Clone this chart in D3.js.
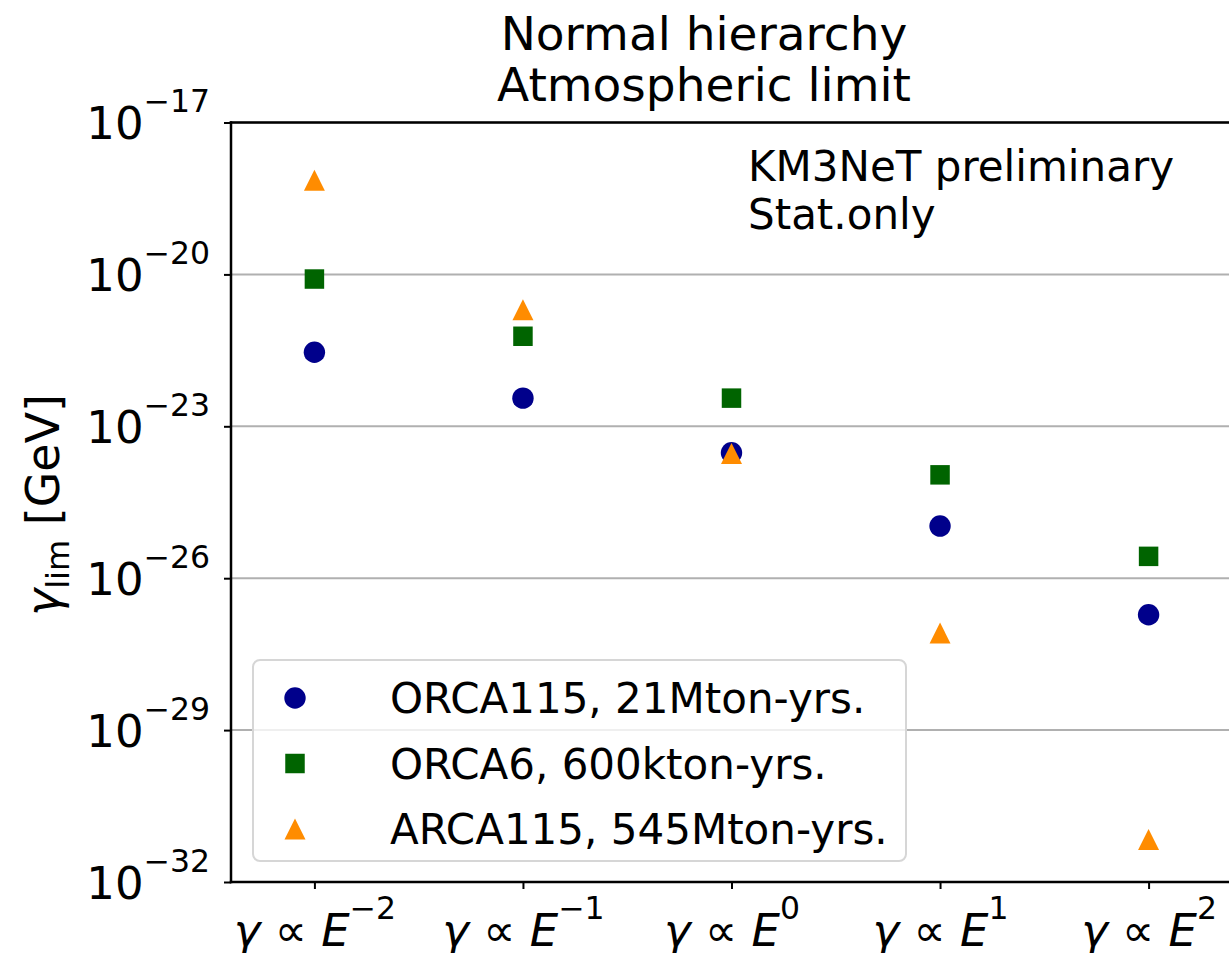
<!DOCTYPE html>
<html>
<head>
<meta charset="utf-8">
<script src="https://cdn.jsdelivr.net/npm/d3@7"></script>
<style>
  html, body { margin: 0; padding: 0; background: #fff; }
  svg { display: block; font-family: 'DejaVu Sans', sans-serif; }
</style>
</head>
<body>
<div id="chart"></div>
<script>
'use strict';

// data (gamma_lim in GeV)
const exponents = ['-2', '-1', '0', '1', '2'];
const orca115 = [2.9e-22, 3.6e-23, 3.0e-24, 1.07e-25, 1.9e-27];
const orca6 = [8.1e-21, 6.0e-22, 3.6e-23, 1.1e-24, 2.7e-26];
const arca115 = [7.2e-19, 2.0e-21, 2.9e-24, 8.3e-28, 6.9e-32];
const yTickExps = [-17, -20, -23, -26, -29, -32];

const seriesNames = ['ORCA115, 21Mton-yrs.', 'ORCA6, 600kton-yrs.', 'ARCA115, 545Mton-yrs.'];
const seriesValues = [orca115, orca6, arca115];

const W = 1229, H = 953;
const plot = { left: 231, right: 1232, top: 122.5, bottom: 882 };

const svg = d3.select('#chart').append('svg')
  .attr('width', W).attr('height', H);

const x = d3.scaleLinear().domain([-0.4, 4.4]).range([plot.left, plot.right]);
const y = d3.scaleLog().domain([1e-32, 1e-17]).range([plot.bottom, plot.top]);

// matplotlib style triangle, centred on its bounding box
const triangleUp = {
  draw(ctx, size) {
    const r = Math.sqrt(size) / 2;
    ctx.moveTo(0, -r);
    ctx.lineTo(r, r);
    ctx.lineTo(-r, r);
    ctx.closePath();
  }
};

const styles = [
  { color: '#00008b', sym: d3.symbolCircle, size: 360 },
  { color: '#006400', sym: d3.symbolSquare, size: 380 },
  { color: '#ff8c00', sym: triangleUp, size: 440 }
];

// grid
svg.append('g').selectAll('line')
  .data(yTickExps.map(e => Math.pow(10, e)))
  .enter().append('line')
  .attr('x1', plot.left).attr('x2', plot.right)
  .attr('y1', d => y(d)).attr('y2', d => y(d))
  .attr('stroke', '#b0b0b0').attr('stroke-width', 2);

// y axis
const yAxis = svg.append('g')
  .attr('transform', `translate(${plot.left},0)`)
  .call(d3.axisLeft(y).tickValues(yTickExps.map(e => Math.pow(10, e)))
    .tickSize(7).tickPadding(14).tickFormat(() => ''));
yAxis.select('.domain').remove();
yAxis.selectAll('.tick line').attr('stroke', '#000').attr('stroke-width', 2);
yAxis.selectAll('.tick text').each(function(d) {
  const t = d3.select(this)
    .attr('font-size', 45).attr('fill', '#000')
    .attr('font-family', 'DejaVu Sans').attr('dy', '0.36em');
  const e = Math.round(Math.log10(d));
  t.append('tspan').text('10');
  t.append('tspan').attr('font-size', 31.5).attr('dy', '-0.85em')
    .text('\u2212' + Math.abs(e));
});

// x axis
const xAxis = svg.append('g')
  .attr('transform', `translate(0,${plot.bottom})`)
  .call(d3.axisBottom(x).tickValues(d3.range(exponents.length))
    .tickSize(7).tickPadding(14).tickFormat(() => ''));
xAxis.select('.domain').remove();
xAxis.selectAll('.tick line').attr('stroke', '#000').attr('stroke-width', 2);
xAxis.selectAll('.tick text').each(function(d) {
  const t = d3.select(this)
    .attr('font-size', 45).attr('fill', '#000')
    .attr('font-family', 'DejaVu Sans').attr('dy', '0.95em');
  t.append('tspan').attr('font-style', 'italic').text('\u03b3');
  t.append('tspan').text(' \u221d ');
  t.append('tspan').attr('font-style', 'italic').text('E');
  t.append('tspan').attr('font-size', 31.5).attr('dy', '-0.85em')
    .text(exponents[d].replace('-', '\u2212'));
});

// spines (right one falls outside the picture)
const spines = svg.append('g').attr('stroke', '#000').attr('stroke-width', 2.5)
  .attr('stroke-linecap', 'square');
spines.append('line').attr('x1', plot.left).attr('x2', plot.left)
  .attr('y1', plot.top).attr('y2', plot.bottom);
spines.append('line').attr('x1', plot.left).attr('x2', plot.right)
  .attr('y1', plot.top).attr('y2', plot.top);
spines.append('line').attr('x1', plot.left).attr('x2', plot.right)
  .attr('y1', plot.bottom).attr('y2', plot.bottom);

// points
seriesValues.forEach((vals, i) => {
  const s = styles[i];
  svg.append('g').selectAll('path')
    .data(vals)
    .enter().append('path')
    .attr('transform', (v, j) => `translate(${x(j)},${y(v)})`)
    .attr('d', d3.symbol().type(s.sym).size(s.size))
    .attr('fill', s.color);
});

// annotation
const note = svg.append('text').attr('x', 748).attr('y', 181)
  .attr('font-size', 42).attr('fill', '#000');
note.append('tspan').attr('x', 748).text('KM3NeT preliminary');
note.append('tspan').attr('x', 748).attr('dy', 48).text('Stat.only');

// title
const title = svg.append('text').attr('text-anchor', 'middle')
  .attr('font-size', 47).attr('fill', '#000');
title.append('tspan').attr('x', 704).attr('y', 50).text('Normal hierarchy');
title.append('tspan').attr('x', 704).attr('y', 101).text('Atmospheric limit');

// y label
const ylab = svg.append('text')
  .attr('transform', 'translate(59,505) rotate(-90)')
  .attr('text-anchor', 'middle').attr('font-size', 46).attr('fill', '#000');
ylab.append('tspan').attr('font-style', 'italic').text('\u03b3');
ylab.append('tspan').attr('font-size', 32).attr('dy', '0.3em').text('lim');
ylab.append('tspan').attr('dy', '-0.21em').text(' [GeV]');

// legend
const legend = svg.append('g').attr('transform', 'translate(253,660)');
legend.append('rect')
  .attr('width', 653).attr('height', 201).attr('rx', 7)
  .attr('fill', '#fff').attr('fill-opacity', 0.8)
  .attr('stroke', '#d6d6d6').attr('stroke-width', 2);
const rows = legend.selectAll('.row')
  .data(seriesNames)
  .enter().append('g').attr('class', 'row')
  .attr('transform', (d, i) => `translate(0,${38 + i * 65.5})`);
rows.append('path')
  .attr('transform', 'translate(42,0)')
  .attr('d', (d, i) => d3.symbol().type(styles[i].sym).size(styles[i].size)())
  .attr('fill', (d, i) => styles[i].color);
rows.append('text')
  .attr('x', 137).attr('dy', '0.36em')
  .attr('font-size', 42).attr('fill', '#000')
  .text(d => d);
</script>
</body>
</html>
